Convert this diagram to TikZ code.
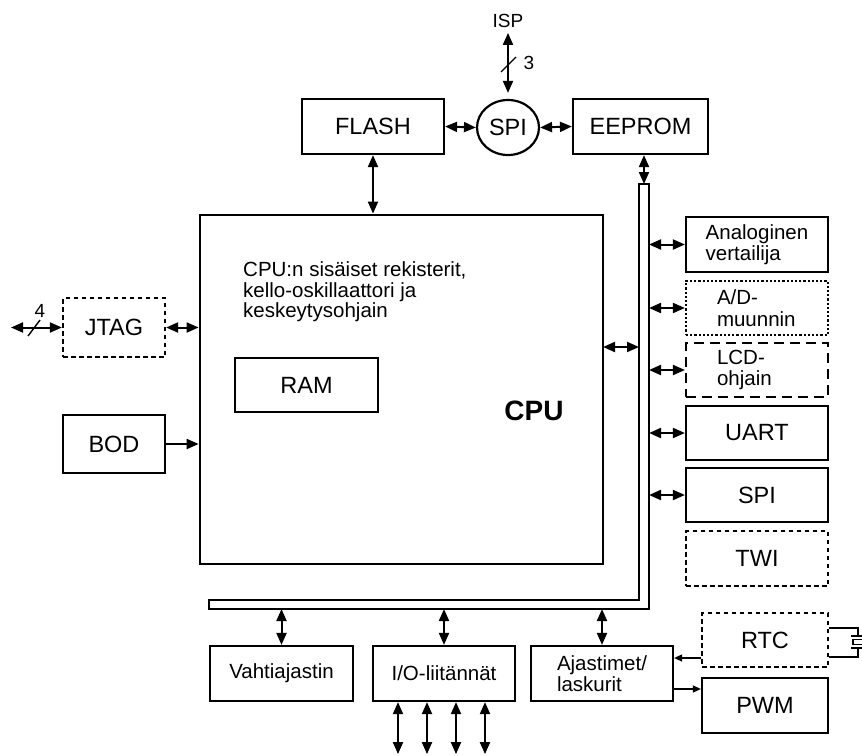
\documentclass[tikz,border=0pt]{standalone}
\usepackage{fontspec}
\setmainfont{Liberation Sans}
\usetikzlibrary{arrows.meta,shapes.geometric,calc}
\newcommand\fbig{\fontsize{23.5}{26}\selectfont}
\newcommand\fsml{\fontsize{20.5}{21.5}\selectfont}
\newcommand\ftiny{\fontsize{19}{21}\selectfont}
\begin{document}
\begin{tikzpicture}[x=1pt,y=-1pt,
  box/.style={draw, line width=2.2pt, inner sep=0pt, font=\fbig},
  sbox/.style={box, font=\fsml, align=left},
  shortdash/.style={dash pattern=on 4.5pt off 3.5pt},
  longdash/.style={dash pattern=on 10pt off 6pt},
  dotline/.style={dash pattern=on 2.2pt off 2pt},
  dar/.style={{Triangle[length=12pt,width=10pt]}-{Triangle[length=12pt,width=10pt]}, line width=2pt},
  bar/.style={-{Triangle[length=12pt,width=10pt]}, line width=2pt},
  sar/.style={-{Triangle[length=8pt,width=7pt]}, line width=1.4pt},
  thin/.style={line width=1.4pt}]
\useasboundingbox (0,0) rectangle (862,755);

% top
\node[inner sep=0pt, font=\ftiny] (isp) at (508,21) {ISP};
\node[box, minimum width=142, minimum height=55] (flash) at (373,126.5) {FLASH};
\node[box, ellipse, minimum width=62, minimum height=55] (spi) at (508,127.5) {SPI};
\node[box, minimum width=135, minimum height=55] (eeprom) at (640.5,126.5) {EEPROM};
\node[inner sep=0pt, font=\ftiny] (three) at (529,63) {3};

% CPU
\node[draw, line width=2.8pt, minimum width=403, minimum height=349, inner sep=0pt] (cpu) at (401.5,389.5) {};
\node[inner sep=0pt, font=\fsml, align=left, anchor=west] (desc) at (243,292)
  {CPU:n sisäiset rekisterit,\\[-1pt]kello-oskillaattori ja\\[-1pt]keskeytysohjain};
\node[box, minimum width=143, minimum height=54] (ram) at (306.5,385) {RAM};
\node[inner sep=0pt, font=\fontsize{28}{30}\selectfont\bfseries] (cputxt) at (534,411) {CPU};

% left
\node[box, shortdash, minimum width=102, minimum height=59] (jtag) at (114,327.5) {JTAG};
\node[box, minimum width=102, minimum height=58] (bod) at (114,444) {BOD};
\node[inner sep=0pt, font=\ftiny] (four) at (40,311) {4};
\coordinate (jtagL) at (11,327.5);

% bus
\draw[line width=1.3pt, fill=white] (639,184) -- (649,184) -- (649,609) -- (209,609) -- (209,600) -- (639,600) -- cycle;
\coordinate (busTop) at (644,184);
\coordinate (busR) at (649,0);
\coordinate (busL) at (639,0);
\coordinate (busB) at (0,609);

% right column
\node[sbox, minimum width=142, minimum height=55] (analog) at (757,244.5) {Analoginen\\vertailija};
\node[sbox, dotline, minimum width=142, minimum height=54, text width=80pt] (ad) at (757,308) {A/D-\\muunnin};
\node[sbox, longdash, minimum width=142, minimum height=54, text width=80pt] (lcd) at (757,370) {LCD-\\ohjain};
\node[box, minimum width=142, minimum height=54] (uart) at (757,433) {UART};
\node[box, minimum width=142, minimum height=54] (spib) at (757,495) {SPI};
\node[box, shortdash, minimum width=142, minimum height=55] (twi) at (757,558.5) {TWI};

% bottom
\node[sbox, minimum width=143, minimum height=55] (vahti) at (281.5,673.5) {Vahtiajastin};
\node[sbox, minimum width=142, minimum height=55] (io) at (444,673.5) {I/O-liitännät};
\node[sbox, minimum width=142, minimum height=55] (ajast) at (602,673.5) {Ajastimet/\\laskurit};
\node[box, shortdash, minimum width=126, minimum height=54] (rtc) at (765,640) {RTC};
\node[box, minimum width=126, minimum height=55] (pwm) at (765,705.5) {PWM};

% connectors top
\draw[dar] ($(isp.south)+(0,5)$) -- ($(spi.north)+(0,-6)$);
\draw[thin] (501,72) -- (516,57);
\draw[dar] (flash.east) -- (spi.west);
\draw[dar] (spi.east) -- (eeprom.west);
\draw[dar] (flash.south) -- (flash.south |- cpu.north);
\draw[dar] (eeprom.south -| busTop) -- (busTop);

% left connectors
\draw[dar] (jtagL) -- (jtag.west);
\draw[thin] (28,336) -- (40,320);
\draw[dar] (jtag.east) -- (jtag.east -| cpu.west);
\draw[bar] (bod.east) -- (bod.east -| cpu.west);

% cpu to bus
\coordinate (cpuBus) at (603,347);
\draw[dar] (cpuBus) -- (cpuBus -| busL);

% right connectors
\foreach \n in {analog,ad,lcd,uart,spib}
  \draw[dar] (\n.west -| busR) -- (\n.west);

% bottom connectors
\foreach \n in {vahti,io,ajast}
  \draw[dar] (\n.north |- busB) -- (\n.north);
\foreach \dx in {-46,-17,12,41}
  \draw[dar] ([xshift=\dx pt]io.south) -- ([xshift=\dx pt, yshift=-52pt]io.south);

\coordinate (r2a) at ($(rtc.west)+(0,18)$);
\draw[sar] (r2a) -- (r2a -| ajast.east);
\coordinate (a2p) at ($(ajast.east)+(0,15.5)$);
\draw[sar] (a2p) -- (a2p -| pwm.west);

% crystal
\coordinate (xt) at ($(rtc.east)+(0,-12)$);
\coordinate (xb) at ($(rtc.east)+(0,17)$);
\draw[thin] (xt) -- (xt -| 858,0) -- (858,636);
\draw[thin] (851,636) -- (866,636);
\draw[thin] (853,639.5) rectangle (864,644.5);
\draw[thin] (851,648) -- (866,648);
\draw[thin] (858,648) -- (xb -| 858,0) -- (xb);
\end{tikzpicture}
\end{document}
